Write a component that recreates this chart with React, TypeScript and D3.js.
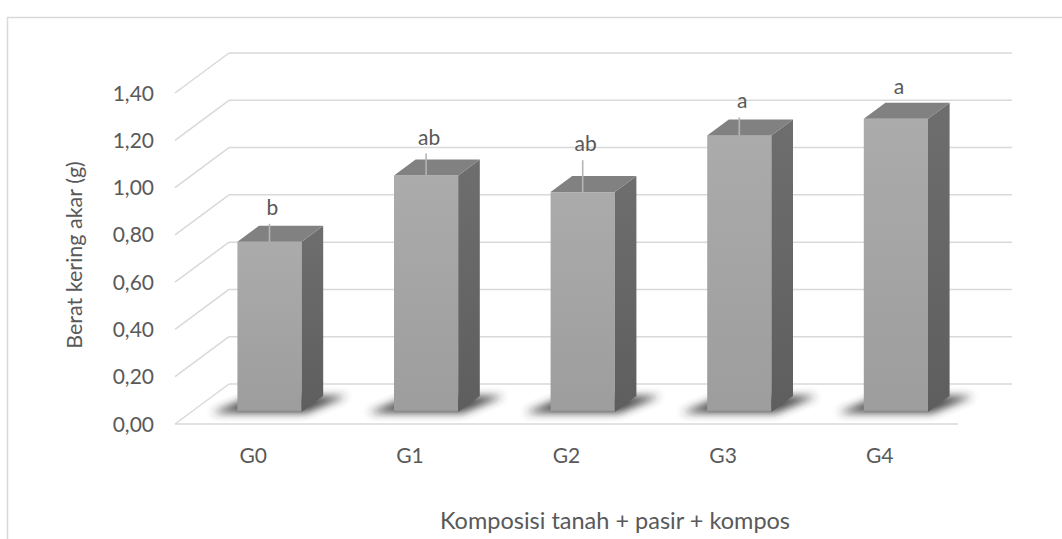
import React from "react";
import * as d3 from "d3";

const categories = ["G0", "G1", "G2", "G3", "G4"];
const values = [0.72, 1.0, 0.93, 1.17, 1.24];
const errors = [0.076, 0.093, 0.135, 0.076, 0];
const letters = ["b", "ab", "ab", "a", "a"];
const yTicks = [0, 0.2, 0.4, 0.6, 0.8, 1.0, 1.2, 1.4];
const yTitle = "Berat kering akar (g)";
const xTitle = "Komposisi tanah + pasir + kompos";

const W = 1062;
const H = 539;
const DX = 54; // depth offset x (front -> back)
const DY = 40; // depth offset y
const FONT = "Lato, 'Open Sans', sans-serif";
const TXT = "#595959";
const GRID = "#d9d9d9";

export default function App() {
  const yBack = d3.scaleLinear().domain([0, 1.4]).range([384, 53]);
  const x = d3.scaleBand<string>().domain(categories).range([175, 958]);
  const bw = x.bandwidth();
  const barW = bw * 0.41;
  const dFront = 0.3;
  const dBack = 0.7;
  const pt = (xf: number, v: number, d: number): [number, number] => [
    xf + DX * d,
    yBack(v) + DY * (1 - d),
  ];
  const fmt = (v: number) => v.toFixed(2).replace(".", ",");
  const pts = (a: [number, number][]) => a.map((p) => p.join(",")).join(" ");

  return (
    <svg
      width={W}
      height={H}
      style={{ position: "absolute", left: 0, top: 0, background: "#fff" }}
      fontFamily={FONT}
    >
      <defs>
        <linearGradient id="frontG" x1="0" y1="0" x2="0" y2="1">
          <stop offset="0" stopColor="#ababab" />
          <stop offset="1" stopColor="#9d9d9d" />
        </linearGradient>
        <linearGradient id="sideG" x1="0" y1="0" x2="0" y2="1">
          <stop offset="0" stopColor="#6e6e6e" />
          <stop offset="1" stopColor="#5e5e5e" />
        </linearGradient>
        <filter id="blur" x="-50%" y="-50%" width="200%" height="200%">
          <feGaussianBlur stdDeviation="4" />
        </filter>
      </defs>
      <rect x={0} y={0} width={W} height={H} fill="#fff" />
      {/* chart border */}
      <path d={`M7.5,${H} L7.5,17.5 L${W},17.5`} fill="none" stroke={GRID} strokeWidth={1.5} />

      {/* gridlines */}
      {yTicks.map((t) => {
        const yb = yBack(t);
        return (
          <g key={t}>
            <line x1={175} y1={yb + DY} x2={175 + DX} y2={yb} stroke={GRID} strokeWidth={1.5} />
            <line x1={175 + DX} y1={yb} x2={958 + DX} y2={yb} stroke={GRID} strokeWidth={1.5} />
          </g>
        );
      })}
      <line x1={175} y1={yBack(0) + DY} x2={958} y2={yBack(0) + DY} stroke={GRID} strokeWidth={1.5} />

      {/* y tick labels */}
      {yTicks.map((t) => (
        <text
          key={"l" + t}
          x={154}
          y={yBack(t) + DY}
          dy="0.36em"
          textAnchor="end"
          fontSize={21}
          fill={TXT}
        >
          {fmt(t)}
        </text>
      ))}

      {/* bars */}
      {categories.map((c, i) => {
        const xf = (x(c) as number) + bw / 2 - barW / 2;
        const x0 = xf;
        const x1 = xf + barW;
        const v = values[i];
        const [fl, ft] = pt(x0, v, dFront);
        const [fr] = pt(x1, v, dFront);
        const [, fb] = pt(x0, 0, dFront);
        const [bl, bt] = pt(x0, v, dBack);
        const [br] = pt(x1, v, dBack);
        const [, bb] = pt(x0, 0, dBack);
        const cx = (fl + fr) / 2;
        const errTop = pt(x0, v + errors[i], dFront)[1];
        const labelY = Math.min(errTop, bt) - 9;
        return (
          <g key={c}>
            <polygon
              points={pts([
                [fl - 26, fb + 1],
                [fr + 4, fb + 1],
                [br + 24, bb],
                [bl - 6, bb],
              ])}
              fill="#2a2a2a"
              opacity={0.85}
              filter="url(#blur)"
            />
            <rect x={fl} y={ft} width={fr - fl} height={fb - ft} fill="url(#frontG)" />
            <line x1={fl} y1={fb - 0.5} x2={fr} y2={fb - 0.5} stroke="#8a8a8a" strokeWidth={1.5} />
            <polygon
              points={pts([
                [fr, ft],
                [br, bt],
                [br, bb],
                [fr, fb],
              ])}
              fill="url(#sideG)"
            />
            <polygon
              points={pts([
                [fl, ft],
                [fr, ft],
                [br, bt],
                [bl, bt],
              ])}
              fill="#818181"
            />
            {errors[i] > 0 && (
              <line x1={cx} y1={ft} x2={cx} y2={errTop} stroke="#b4b4b4" strokeWidth={1.6} />
            )}
            <text x={cx + 3} y={labelY} textAnchor="middle" fontSize={21} fill={TXT}>
              {letters[i]}
            </text>
            <text
              x={(x(c) as number) + bw / 2}
              y={463}
              textAnchor="middle"
              fontSize={21}
              fill={TXT}
            >
              {c}
            </text>
          </g>
        );
      })}

      <text x={615} y={529} textAnchor="middle" fontSize={23.5} fill={TXT}>
        {xTitle}
      </text>
      <text
        transform={`translate(82,255) rotate(-90)`}
        textAnchor="middle"
        fontSize={21.5}
        fill={TXT}
      >
        {yTitle}
      </text>
    </svg>
  );
}
